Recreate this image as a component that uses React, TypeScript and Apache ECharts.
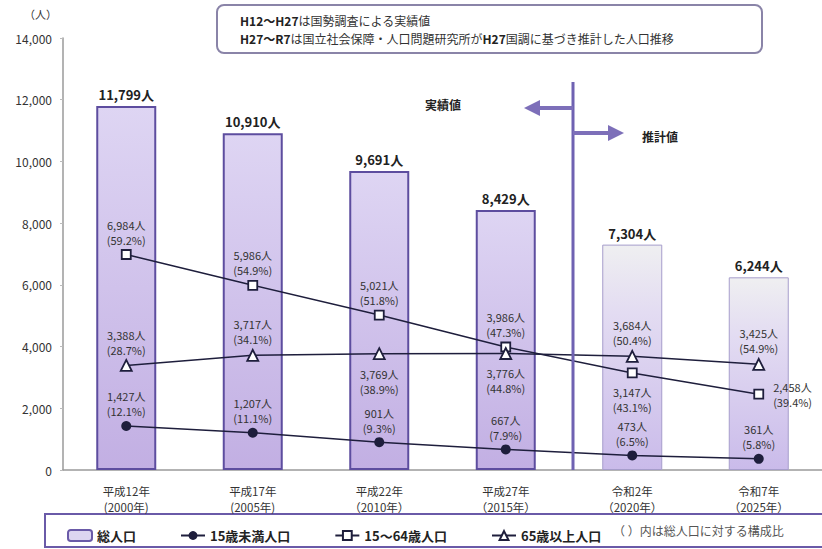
import React, { useEffect, useRef } from 'react';
import * as echarts from 'echarts';

const categories = [
  '平成12年\n(2000年)',
  '平成17年\n(2005年)',
  '平成22年\n（2010年）',
  '平成27年\n（2015年）',
  '令和2年\n（2020年）',
  '令和7年\n（2025年）',
];
const totalPop = [11799, 10910, 9691, 8429, 7304, 6244];
const under15 = [1427, 1207, 901, 667, 473, 361];
const under15Pct = [12.1, 11.1, 9.3, 7.9, 6.5, 5.8];
const working = [6984, 5986, 5021, 3986, 3147, 2458];
const workingPct = [59.2, 54.9, 51.8, 47.3, 43.1, 39.4];
const elderly = [3388, 3717, 3769, 3776, 3684, 3425];
const elderlyPct = [28.7, 34.1, 38.9, 44.8, 50.4, 54.9];
const firstEstimateIndex = 4;

const seriesNames = ['総人口', '15歳未満人口', '15〜64歳人口', '65歳以上人口'];

const under15LabelPos = ['top', 'top', 'top', 'top', 'top', 'top'];
const workingLabelPos = ['top', 'top', 'top', 'top', 'bottom', 'right'];
const elderlyLabelPos = ['top', 'top', 'bottom', 'bottom', 'top', 'top'];

const FONT = "'Noto Sans CJK JP', 'Noto Sans', sans-serif";
const LINE_COLOR = '#1e1e3c';
const fmt = (v: number) => v.toLocaleString('en-US') + '人';

function lineData(values: number[], pcts: number[], positions: string[]) {
  return values.map((v, i) => {
    const pos = positions[i];
    return {
      value: v,
      label: {
        position: pos,
        distance: pos === 'top' ? 2 : pos === 'bottom' ? 6 : 9,
        align: pos === 'right' ? 'left' : 'center',
        formatter: () => `${fmt(v)}\n(${pcts[i].toFixed(1)}%)`,
      },
    };
  });
}

export default function App() {
  const ref = useRef<HTMLDivElement>(null);
  useEffect(() => {
    if (!ref.current) return;
    const chart = echarts.init(ref.current, undefined, { renderer: 'svg' });

    const actualStyle = {
      color: new echarts.graphic.LinearGradient(0, 0, 0, 1, [
        { offset: 0, color: '#ded5f3' },
        { offset: 1, color: '#c2afe3' },
      ]),
      borderColor: '#5d4d9f',
      borderWidth: 2,
    };
    const estimateStyle = {
      color: new echarts.graphic.LinearGradient(0, 0, 0, 1, [
        { offset: 0, color: '#efeff1' },
        { offset: 0.3, color: '#e3dcf2' },
        { offset: 1, color: '#cabbea' },
      ]),
      borderColor: '#a69dcb',
      borderWidth: 1,
    };

    const lineLabel = {
      show: true,
      fontFamily: FONT,
      fontSize: 11,
      color: '#333',
      lineHeight: 15,
    };

    const option: any = {
      animation: false,
      textStyle: { fontFamily: FONT },
      grid: { left: 63, right: 0, top: 38, bottom: 79 },
      legend: {
        left: 62,
        top: 524,
        itemGap: 44,
        itemWidth: 24,
        itemHeight: 11,
        textStyle: { fontFamily: FONT, fontSize: 13, fontWeight: 'bold', color: '#222' },
        data: seriesNames,
      },
      xAxis: {
        type: 'category',
        data: categories,
        axisLine: { lineStyle: { color: '#9a9a9a', width: 1.5 } },
        axisTick: { show: false },
        axisLabel: { fontFamily: FONT, fontSize: 11.5, color: '#333', lineHeight: 16, margin: 13 },
      },
      yAxis: {
        type: 'value',
        min: 0,
        max: 14000,
        interval: 2000,
        axisLine: { show: true, lineStyle: { color: '#9a9a9a', width: 1.5 } },
        axisTick: { show: true, length: 3, lineStyle: { color: '#bbb' } },
        splitLine: { show: false },
        axisLabel: {
          fontFamily: FONT,
          fontSize: 12,
          color: '#333',
          margin: 11,
          formatter: (v: number) => v.toLocaleString('en-US'),
        },
      },
      series: [
        {
          name: seriesNames[0],
          type: 'bar',
          barWidth: 60,
          itemStyle: { color: '#ddd5f1', borderColor: '#6a5aa8', borderWidth: 1 },
          data: totalPop.map((v, i) => ({
            value: v,
            itemStyle: i >= firstEstimateIndex ? estimateStyle : actualStyle,
          })),
          label: {
            show: true,
            position: 'top',
            distance: 5,
            fontFamily: FONT,
            fontSize: 13,
            fontWeight: 'bold',
            color: '#222',
            formatter: (p: any) => fmt(p.value),
          },
          z: 1,
        },
        {
          name: seriesNames[1],
          type: 'line',
          symbol: 'circle',
          symbolSize: 10,
          itemStyle: { color: LINE_COLOR },
          lineStyle: { color: LINE_COLOR, width: 1.5 },
          label: lineLabel,
          data: lineData(under15, under15Pct, under15LabelPos),
          z: 3,
        },
        {
          name: seriesNames[2],
          type: 'line',
          symbol: 'rect',
          symbolSize: 9,
          itemStyle: { color: '#fff', borderColor: LINE_COLOR, borderWidth: 1.8 },
          lineStyle: { color: LINE_COLOR, width: 1.5 },
          label: lineLabel,
          data: lineData(working, workingPct, workingLabelPos),
          z: 3,
        },
        {
          name: seriesNames[3],
          type: 'line',
          symbol: 'triangle',
          symbolSize: 11,
          itemStyle: { color: '#fff', borderColor: LINE_COLOR, borderWidth: 1.8 },
          lineStyle: { color: LINE_COLOR, width: 1.5 },
          label: lineLabel,
          data: lineData(elderly, elderlyPct, elderlyLabelPos),
          z: 3,
        },
      ],
      graphic: [
        {
          type: 'text',
          left: 24,
          top: 8,
          style: { text: '（人）', fontFamily: FONT, fontSize: 11, fill: '#333' },
        },
        {
          type: 'rect',
          shape: { x: 217, y: 5, width: 545, height: 48, r: 7 },
          style: { fill: '#fff', stroke: '#8a84a8', lineWidth: 2 },
        },
        {
          type: 'text',
          x: 240,
          y: 20,
          style: {
            text: '{b|H12〜H27}は国勢調査による実績値',
            fontFamily: FONT,
            fontSize: 12,
            fill: '#333',
            verticalAlign: 'middle',
            rich: { b: { fontFamily: FONT, fontSize: 12, fontWeight: 'bold', fill: '#222' } },
          },
        },
        {
          type: 'text',
          x: 240,
          y: 38,
          style: {
            text: '{b|H27〜R7}は国立社会保障・人口問題研究所が{b|H27}国調に基づき推計した人口推移',
            fontFamily: FONT,
            fontSize: 12,
            fill: '#333',
            verticalAlign: 'middle',
            rich: { b: { fontFamily: FONT, fontSize: 12, fontWeight: 'bold', fill: '#222' } },
          },
        },
        {
          type: 'line',
          shape: { x1: 573, y1: 82, x2: 573, y2: 470 },
          style: { stroke: '#6f62b2', lineWidth: 3 },
          z: 10,
        },
        {
          type: 'line',
          shape: { x1: 573, y1: 108, x2: 536, y2: 108 },
          style: { stroke: '#7d6fb9', lineWidth: 4 },
          z: 10,
        },
        {
          type: 'polygon',
          shape: { points: [[524, 108], [540, 100], [540, 116]] },
          style: { fill: '#7d6fb9' },
          z: 10,
        },
        {
          type: 'line',
          shape: { x1: 573, y1: 133, x2: 612, y2: 133 },
          style: { stroke: '#7d6fb9', lineWidth: 4 },
          z: 10,
        },
        {
          type: 'polygon',
          shape: { points: [[624, 133], [608, 125], [608, 141]] },
          style: { fill: '#7d6fb9' },
          z: 10,
        },
        {
          type: 'text',
          x: 425,
          y: 104,
          style: { text: '実績値', fontFamily: FONT, fontSize: 12, fontWeight: 'bold', fill: '#222', verticalAlign: 'middle' },
        },
        {
          type: 'text',
          x: 642,
          y: 136,
          style: { text: '推計値', fontFamily: FONT, fontSize: 12, fontWeight: 'bold', fill: '#222', verticalAlign: 'middle' },
        },
        {
          type: 'rect',
          shape: { x: 45, y: 514, width: 790, height: 33 },
          style: { fill: 'none', stroke: '#6a5aa8', lineWidth: 2 },
        },
        {
          type: 'text',
          x: 613,
          y: 530,
          style: {
            text: '（ ）内は総人口に対する構成比',
            fontFamily: FONT,
            fontSize: 12,
            fill: '#555',
            verticalAlign: 'middle',
          },
        },
      ],
    };
    chart.setOption(option);
    return () => chart.dispose();
  }, []);
  return (
    <div
      ref={ref}
      style={{ position: 'fixed', left: 0, top: 0, width: 822, height: 549, background: '#fff' }}
    />
  );
}
